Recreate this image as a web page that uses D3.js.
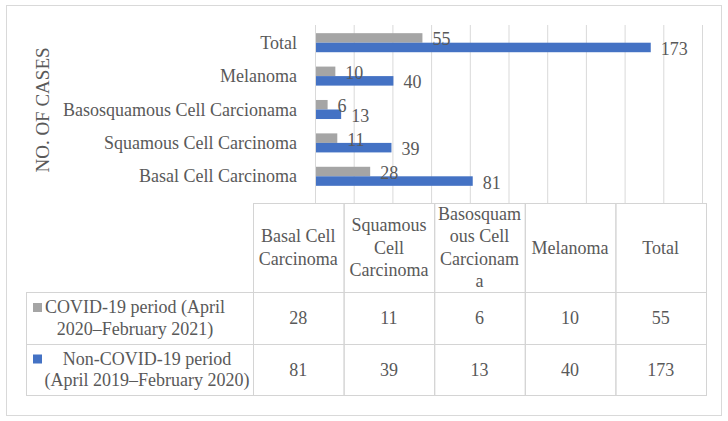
<!DOCTYPE html>
<html>
<head>
<meta charset="utf-8">
<script src="https://cdn.jsdelivr.net/npm/d3@7"></script>
<style>
  body { margin: 0; background: #fff; }
  text { font-family: "Liberation Serif", serif; fill: #595959; }
</style>
</head>
<body>
<div id="chart"></div>
<script>
// data
const categories = ["Basal Cell Carcinoma", "Squamous Cell Carcinoma", "Basosquamous Cell Carcionama", "Melanoma", "Total"];
const headerLines = [["Basal Cell", "Carcinoma"], ["Squamous", "Cell", "Carcinoma"], ["Basosquam", "ous Cell", "Carcionam", "a"], ["Melanoma"], ["Total"]];
const seriesNames = ["covid", "noncovid"];
const seriesLabels = [["COVID-19 period (April", "2020\u2013February 2021)"], ["Non-COVID-19 period", "(April 2019\u2013February 2020)"]];
const covidValues = [28, 11, 6, 10, 55];
const nonCovidValues = [81, 39, 13, 40, 173];
const xTicks = [0, 20, 40, 60, 80, 100, 120, 140, 160, 180, 200];

const colors = { covid: "#a5a5a5", noncovid: "#4472c4" };
const W = 728, H = 421;
const fs = 18;

const svg = d3.select("#chart").append("svg")
  .attr("width", W).attr("height", H);

// outer frame
svg.append("rect")
  .attr("x", 6.5).attr("y", 5.5).attr("width", 715).attr("height", 410)
  .attr("fill", "none").attr("stroke", "#d9d9d9");

const rows = categories.map((c, i) => ({ cat: c, covid: covidValues[i], noncovid: nonCovidValues[i] }));

// scales
const x = d3.scaleLinear().domain([0, 200]).range([315, 702]);
const y = d3.scaleBand()
  .domain(categories.slice().reverse())
  .range([26, 193])
  .paddingInner(0.43).paddingOuter(0.215);
const ySub = d3.scaleBand().domain(seriesNames).range([0, y.bandwidth()]);

// gridlines
svg.append("g").selectAll("line")
  .data(xTicks)
  .join("line")
    .attr("x1", d => x(d) + 0.5).attr("x2", d => x(d) + 0.5)
    .attr("y1", 25).attr("y2", 203)
    .attr("stroke", "#d9d9d9");

// bars
const groups = svg.append("g").selectAll("g")
  .data(rows)
  .join("g")
    .attr("transform", d => `translate(0,${y(d.cat)})`);

groups.selectAll("rect")
  .data(d => seriesNames.map(s => ({ s, v: d[s] })))
  .join("rect")
    .attr("x", x(0) + 1)
    .attr("y", d => ySub(d.s))
    .attr("width", d => x(d.v) - x(0))
    .attr("height", ySub.bandwidth())
    .attr("fill", d => colors[d.s]);

groups.selectAll("text")
  .data(d => seriesNames.map(s => ({ s, v: d[s] })))
  .join("text")
    .attr("x", d => x(d.v) + 11)
    .attr("y", d => ySub(d.s) + ySub.bandwidth() / 2 + 1.5)
    .attr("dominant-baseline", "central")
    .style("font-size", fs + "px")
    .text(d => d.v);

// category axis labels
svg.append("g").selectAll("text")
  .data(categories)
  .join("text")
    .attr("x", 297)
    .attr("y", d => y(d) + y.bandwidth() / 2)
    .attr("text-anchor", "end")
    .attr("dominant-baseline", "central")
    .style("font-size", fs + "px")
    .text(d => d);

// axis title
svg.append("text")
  .attr("transform", "translate(42,110) rotate(-90)")
  .attr("text-anchor", "middle")
  .attr("dominant-baseline", "central")
  .style("font-size", "19px")
  .text("NO. OF CASES");

// data table
const col = d3.scaleBand().domain(categories).range([253, 706]);
const rowTop = [203, 292, 344, 395];
const tableStroke = "#d4d4d4";
const table = svg.append("g");

// header cells
table.selectAll(".hcell")
  .data(categories)
  .join("rect")
    .attr("class", "hcell")
    .attr("x", d => col(d) + 0.5).attr("y", rowTop[0] + 0.5)
    .attr("width", col.bandwidth()).attr("height", rowTop[1] - rowTop[0])
    .attr("fill", "none").attr("stroke", tableStroke);

categories.forEach((c, i) => {
  const lines = headerLines[i];
  const lh = 22.5;
  const cy = (rowTop[0] + rowTop[1]) / 2;
  table.append("text")
    .attr("text-anchor", "middle")
    .style("font-size", fs + "px")
    .selectAll("tspan")
    .data(lines)
    .join("tspan")
      .attr("x", col(c) + col.bandwidth() / 2)
      .attr("y", (d, j) => cy + (j - (lines.length - 1) / 2) * lh)
      .attr("dominant-baseline", "central")
      .text(d => d);
});

// series rows
seriesNames.forEach((s, r) => {
  const top = rowTop[r + 1], bot = rowTop[r + 2];
  const cy = (top + bot) / 2;
  table.append("rect")
    .attr("x", 26.5).attr("y", top + 0.5)
    .attr("width", 253 - 26).attr("height", bot - top)
    .attr("fill", "none").attr("stroke", tableStroke);
  table.append("rect")
    .attr("x", 33).attr("y", cy - 15)
    .attr("width", 9).attr("height", 9)
    .attr("fill", colors[s]);
  const lines = seriesLabels[r];
  table.append("text")
    .attr("text-anchor", "middle")
    .style("font-size", fs + "px")
    .selectAll("tspan")
    .data(lines)
    .join("tspan")
      .attr("x", r === 0 ? 135 : 147)
      .attr("y", (d, j) => cy + (j - 0.5) * 21.5)
      .attr("dominant-baseline", "central")
      .text(d => d);
  table.selectAll(".c" + s)
    .data(rows)
    .join("rect")
      .attr("class", "c" + s)
      .attr("x", d => col(d.cat) + 0.5).attr("y", top + 0.5)
      .attr("width", col.bandwidth()).attr("height", bot - top)
      .attr("fill", "none").attr("stroke", tableStroke);
  table.selectAll(".t" + s)
    .data(rows)
    .join("text")
      .attr("class", "t" + s)
      .attr("x", d => col(d.cat) + col.bandwidth() / 2)
      .attr("y", cy)
      .attr("text-anchor", "middle")
      .attr("dominant-baseline", "central")
      .style("font-size", fs + "px")
      .text(d => d[s]);
});
</script>
</body>
</html>
